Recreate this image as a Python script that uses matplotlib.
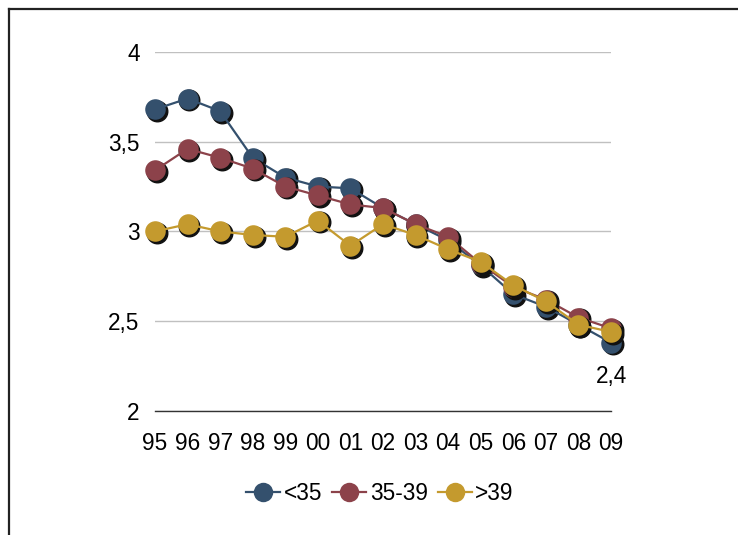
#!/usr/bin/env python3
"""Average by age group of mother, 1995-2009."""

import matplotlib
matplotlib.use("Agg")
import matplotlib.pyplot as plt
from matplotlib.lines import Line2D
from matplotlib.ticker import FuncFormatter
from matplotlib.transforms import offset_copy

years = ["95", "96", "97", "98", "99", "00", "01", "02", "03", "04", "05", "06", "07", "08", "09"]
under_35 = [3.68, 3.74, 3.67, 3.41, 3.30, 3.25, 3.24, 3.13, 3.04, 2.95, 2.81, 2.65, 2.58, 2.48, 2.38]
age_35_39 = [3.34, 3.46, 3.41, 3.35, 3.25, 3.20, 3.15, 3.13, 3.04, 2.97, 2.82, 2.69, 2.62, 2.52, 2.46]
over_39 = [3.00, 3.04, 3.00, 2.98, 2.97, 3.06, 2.92, 3.04, 2.98, 2.90, 2.83, 2.70, 2.61, 2.48, 2.44]

series = [
    ("<35", under_35, "#34506d"),
    ("35-39", age_35_39, "#8c424a"),
    (">39", over_39, "#c49a2e"),
]

plt.rcParams["font.family"] = ["Liberation Sans", "DejaVu Sans"]
plt.rcParams["font.size"] = 16.3

fig = plt.figure(figsize=(7.38, 5.35), dpi=100)
ax = fig.add_axes([0.210, 0.232, 0.618, 0.671])

x = list(range(len(years)))
shadow_tf = offset_copy(ax.transData, fig=fig, x=1.8, y=-1.8, units="dots")

for i, (name, values, color) in enumerate(series):
    z = 3 + i * 3
    ax.plot(x, values, linestyle="none", marker="o", markersize=14.8,
            color="#111111", transform=shadow_tf, clip_on=False, zorder=z)
    ax.plot(x, values, color=color, linewidth=1.6, marker="o", markersize=14.8,
            markeredgewidth=0, clip_on=False, zorder=z + 1, label=name)

# value label on the last point of the youngest group
ax.annotate(f"{under_35[-1]:.1f}".replace(".", ","), (x[-1], under_35[-1]),
            xytext=(0, -24), textcoords="offset points", ha="center", va="center")

ax.set_xlim(0, len(years) - 1)
ax.set_ylim(2, 4)
ax.set_xticks(x)
ax.set_xticklabels(years)
ax.set_yticks([2, 2.5, 3, 3.5, 4])
ax.yaxis.set_major_formatter(FuncFormatter(lambda v, _: f"{v:g}".replace(".", ",")))
ax.tick_params(axis="both", length=0)
ax.tick_params(axis="x", pad=15)
ax.tick_params(axis="y", pad=11)

ax.grid(True, axis="y", color="#c0c0c0", linewidth=1.0)
ax.set_axisbelow(True)
for side in ("top", "right", "left"):
    ax.spines[side].set_visible(False)
ax.spines["bottom"].set_color("#333333")
ax.spines["bottom"].set_linewidth(1.0)

handles = [Line2D([0], [0], color=c, linewidth=1.6, marker="o", markersize=14,
                  markeredgewidth=0) for _, _, c in series]
fig.legend(handles, [s[0] for s in series], loc="center", bbox_to_anchor=(0.515, 0.077),
           ncol=3, frameon=False, handlelength=1.5, handletextpad=0.15,
           columnspacing=0.45)

# outer frame (top and left edges)
fig.add_artist(Line2D([8.5 / 738, 1.0], [1 - 8.5 / 535, 1 - 8.5 / 535],
                      color="#222222", linewidth=1.6))
fig.add_artist(Line2D([8.5 / 738, 8.5 / 738], [0.0, 1 - 8.5 / 535],
                      color="#222222", linewidth=1.6))

fig.savefig("out.png", dpi=100)
